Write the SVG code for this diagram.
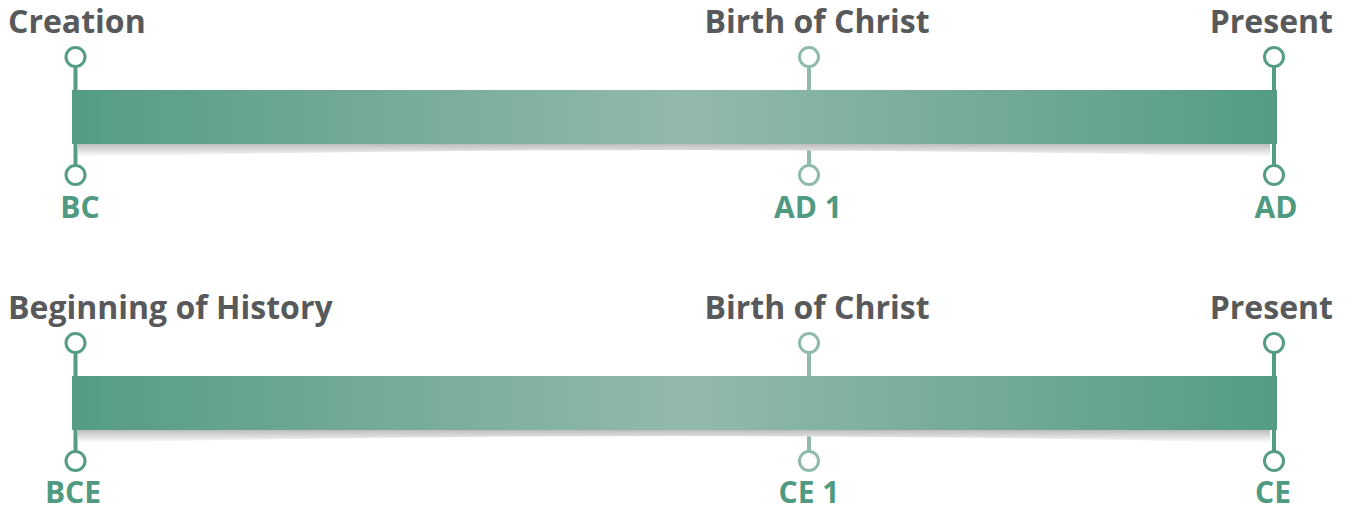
<svg xmlns="http://www.w3.org/2000/svg" width="1350" height="510" viewBox="0 0 1350 510">
<defs>
<linearGradient id="barGrad" x1="0" y1="0" x2="1" y2="0">
<stop offset="0" stop-color="#559c85"/>
<stop offset="0.51" stop-color="#93b9aa"/>
<stop offset="1" stop-color="#549c84"/>
</linearGradient>
<linearGradient id="shadowGrad" x1="0" y1="0" x2="0" y2="1">
<stop offset="0" stop-color="#bdbdbd"/>
<stop offset="1" stop-color="#ffffff"/>
</linearGradient>
</defs>
<style>
.title{font-family:"Open Sans","Liberation Sans",sans-serif;font-weight:700;font-size:32px;fill:#58595b}
.era{font-family:"Open Sans","Liberation Sans",sans-serif;font-weight:700;font-size:30px;fill:#4f9a80;text-anchor:middle}
.stem{stroke:#559c85;stroke-width:4;fill:none}
.stem.mid{stroke:#8fbaa9}
.dot{fill:#ffffff;stroke:#559c85;stroke-width:3}
.dot.mid{stroke:#8fbaa9}
</style>

<g id="timeline1">
<g id="connectors1">
<line class="stem" x1="75.5" y1="66" x2="75.5" y2="166"/>
<line class="stem mid" x1="809" y1="66" x2="809" y2="166"/>
<line class="stem" x1="1274" y1="66" x2="1274" y2="166"/>
</g>
<path d="M78,144 H1270 V157 Q674,143 78,157 Z" fill="url(#shadowGrad)"/>
<rect id="bar1" x="72" y="90" width="1205" height="54" fill="url(#barGrad)"/>
<g id="creation">
<circle class="dot" cx="75.5" cy="57" r="9.5"/>
<circle class="dot" cx="75.5" cy="175" r="9.5"/>
<text class="title" x="8" y="33">Creation</text>
<text class="era" x="80" y="218">BC</text>
</g>
<g id="birth1">
<circle class="dot mid" cx="809" cy="57" r="9.5"/>
<circle class="dot mid" cx="809" cy="175" r="9.5"/>
<text class="title" x="817" y="33" text-anchor="middle">Birth of Christ</text>
<text class="era" x="808" y="218">AD 1</text>
</g>
<g id="present1">
<circle class="dot" cx="1274" cy="57" r="9.5"/>
<circle class="dot" cx="1274" cy="175" r="9.5"/>
<text class="title" x="1333" y="33" text-anchor="end">Present</text>
<text class="era" x="1276" y="218">AD</text>
</g>
</g>

<g id="timeline2">
<g id="connectors2">
<line class="stem" x1="75.5" y1="352" x2="75.5" y2="452"/>
<line class="stem mid" x1="809" y1="352" x2="809" y2="452"/>
<line class="stem" x1="1274" y1="352" x2="1274" y2="452"/>
</g>
<path d="M78,430 H1270 V443 Q674,429 78,443 Z" fill="url(#shadowGrad)"/>
<rect id="bar2" x="72" y="376" width="1205" height="54" fill="url(#barGrad)"/>
<g id="beginning">
<circle class="dot" cx="75.5" cy="343" r="9.5"/>
<circle class="dot" cx="75.5" cy="461" r="9.5"/>
<text class="title" x="8" y="319">Beginning of History</text>
<text class="era" x="73" y="503">BCE</text>
</g>
<g id="birth2">
<circle class="dot mid" cx="809" cy="343" r="9.5"/>
<circle class="dot mid" cx="809" cy="461" r="9.5"/>
<text class="title" x="817" y="319" text-anchor="middle">Birth of Christ</text>
<text class="era" x="809" y="503">CE 1</text>
</g>
<g id="present2">
<circle class="dot" cx="1274" cy="343" r="9.5"/>
<circle class="dot" cx="1274" cy="461" r="9.5"/>
<text class="title" x="1333" y="319" text-anchor="end">Present</text>
<text class="era" x="1273" y="503">CE</text>
</g>
</g>
</svg>
